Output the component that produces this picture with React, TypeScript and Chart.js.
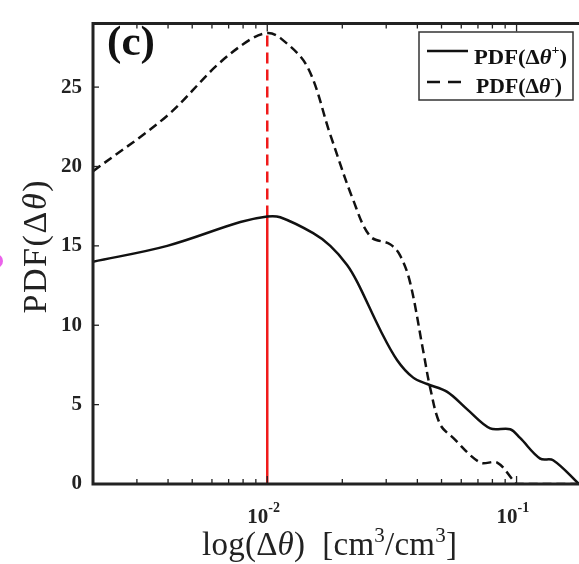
import React, { useEffect, useRef } from "react";
import { Chart, registerables } from "chart.js";

Chart.register(...registerables);

// ---- data ----
const PLUS_X = [0.002, 0.00397, 0.0078, 0.01, 0.01127, 0.01528, 0.0179, 0.0209, 0.023, 0.0284, 0.0332, 0.0385, 0.0438, 0.0527, 0.0634, 0.0784, 0.0942, 0.1033, 0.1244, 0.1402, 0.178];
const PLUS_Y = [14.0, 15.0, 16.5, 16.85, 16.8, 15.8, 15.0, 13.8, 12.7, 9.7, 7.8, 6.7, 6.3, 5.8, 4.7, 3.5, 3.45, 2.9, 1.6, 1.5, 0];

const MINUS_X = [0.002, 0.00397, 0.00631, 0.00855, 0.01, 0.01127, 0.01446, 0.0179, 0.0221, 0.0259, 0.0311, 0.0341, 0.0374, 0.0422, 0.0451, 0.0494, 0.0557, 0.0715, 0.0836, 0.0968, 0.1004, 0.178];
const MINUS_Y = [19.7, 23.2, 26.4, 28.0, 28.4, 28.1, 26.3, 22.0, 17.9, 15.6, 15.1, 14.4, 12.7, 8.4, 6.0, 3.75, 2.9, 1.35, 1.35, 0.25, 0, 0];

const PEAK_X = 0.01;
const RED_SOLID_Y = [0, 16.85];
const RED_DASHED_Y = [16.85, 28.4];

const Y_TICKS = [0, 5, 10, 15, 20, 25];
const X_MAJOR = [0.01, 0.1];
const X_MAJOR_EXP = ["-2", "-1"];
const X_MIN = 0.002;
const X_MAX = 0.178;
const Y_MIN = 0;
const Y_MAX = 29;

const LEGEND_LABELS = ["PDF(Δθ", "PDF(Δθ"];
const LEGEND_SUPS = ["+", "-"];

type Seg = { t: string; font: string; dy?: number };

function richWidth(ctx: CanvasRenderingContext2D, segs: Seg[]) {
  let w = 0;
  for (const s of segs) {
    ctx.font = s.font;
    w += ctx.measureText(s.t).width;
  }
  return w;
}

// mode "scale": stretch horizontally; mode "spread": distribute extra space between characters
function drawRich(
  ctx: CanvasRenderingContext2D,
  segs: Seg[],
  x: number,
  y: number,
  align: "left" | "center",
  targetW: number,
  color: string,
  mode: "scale" | "spread"
) {
  const w = richWidth(ctx, segs);
  const nChars = segs.reduce((a, s) => a + s.t.length, 0);
  const sx = mode === "scale" ? targetW / w : 1;
  const gap = mode === "spread" ? (targetW - w) / Math.max(1, nChars - 1) : 0;
  const x0 = align === "center" ? x - targetW / 2 : x;
  ctx.save();
  ctx.translate(x0, y);
  ctx.scale(sx, 1);
  ctx.fillStyle = color;
  ctx.textBaseline = "alphabetic";
  ctx.textAlign = "left";
  let cx = 0;
  for (const s of segs) {
    ctx.font = s.font;
    for (const ch of Array.from(s.t)) {
      ctx.fillText(ch, cx, s.dy || 0);
      cx += ctx.measureText(ch).width + gap;
    }
  }
  ctx.restore();
}

const SERIF = '"Liberation Serif", "Times New Roman", serif';

const decorPlugin = {
  id: "decor",
  afterDatasetsDraw(chart: any) {
    const ctx: CanvasRenderingContext2D = chart.ctx;
    const { left, right, top, bottom } = chart.chartArea;
    const xs = chart.scales.x;
    const ys = chart.scales.y;
    ctx.save();
    // spines
    ctx.strokeStyle = "#222";
    ctx.lineWidth = 3;
    ctx.beginPath();
    ctx.moveTo(right + 2, top);
    ctx.lineTo(left, top);
    ctx.lineTo(left, bottom);
    ctx.lineTo(right + 2, bottom);
    ctx.stroke();

    // x ticks (inward, top and bottom)
    ctx.lineWidth = 1.3;
    for (const t of xs.ticks) {
      const v = t.value;
      if (v <= X_MIN * 1.0001 || v >= X_MAX * 0.9999) continue;
      const e = Math.floor(Math.log10(v) + 1e-9);
      const m = v / Math.pow(10, e);
      if (Math.abs(m - Math.round(m)) > 1e-6) continue;
      const major = Math.abs(m - 1) < 1e-6;
      const len = major ? 7 : 4;
      const px = xs.getPixelForValue(v);
      ctx.beginPath();
      ctx.moveTo(px, bottom - 1);
      ctx.lineTo(px, bottom - 1 - len);
      ctx.moveTo(px, top + 1);
      ctx.lineTo(px, top + 1 + len);
      ctx.stroke();
    }
    // y ticks
    for (const v of Y_TICKS) {
      const py = ys.getPixelForValue(v);
      ctx.beginPath();
      ctx.moveTo(left + 1, py);
      ctx.lineTo(left + 6, py);
      ctx.stroke();
    }

    // x tick labels 10^n
    X_MAJOR.forEach((v, i) => {
      const px = xs.getPixelForValue(v);
      ctx.fillStyle = "#222";
      ctx.font = `bold 21px ${SERIF}`;
      ctx.textAlign = "right";
      ctx.textBaseline = "alphabetic";
      ctx.fillText("10", px + 1, bottom + 39);
      ctx.font = `bold 14px ${SERIF}`;
      ctx.textAlign = "left";
      ctx.fillText(X_MAJOR_EXP[i], px + 1, bottom + 28);
    });

    // axis titles
    drawRich(
      ctx,
      [
        { t: "log(Δ", font: `33px ${SERIF}` },
        { t: "θ", font: `italic 33px ${SERIF}` },
        { t: ")  [cm", font: `33px ${SERIF}` },
        { t: "3", font: `21px ${SERIF}`, dy: -13 },
        { t: "/cm", font: `33px ${SERIF}` },
        { t: "3", font: `21px ${SERIF}`, dy: -13 },
        { t: "]", font: `33px ${SERIF}` },
      ],
      329.5,
      555,
      "center",
      255,
      "#222",
      "spread"
    );
    ctx.save();
    ctx.translate(46, 247);
    ctx.rotate(-Math.PI / 2);
    drawRich(
      ctx,
      [
        { t: "PDF(Δ", font: `34px ${SERIF}` },
        { t: "θ", font: `italic 34px ${SERIF}` },
        { t: ")", font: `34px ${SERIF}` },
      ],
      0,
      0,
      "center",
      133,
      "#222",
      "spread"
    );
    ctx.restore();

    // panel tag
    drawRich(ctx, [{ t: "(c)", font: `bold 42px ${SERIF}` }], 107, 55, "left", 48, "#111", "scale");

    // legend
    const bx = 419, by = 32, bw = 154, bh = 68;
    ctx.fillStyle = "#fff";
    ctx.fillRect(bx, by, bw, bh);
    ctx.strokeStyle = "#333";
    ctx.lineWidth = 1.5;
    ctx.strokeRect(bx, by, bw, bh);
    ctx.strokeStyle = "#111";
    ctx.lineWidth = 2.5;
    ctx.beginPath();
    ctx.setLineDash([]);
    ctx.moveTo(427, 51);
    ctx.lineTo(468, 51);
    ctx.stroke();
    ctx.setLineDash([13, 8]);
    ctx.beginPath();
    ctx.moveTo(427, 82);
    ctx.lineTo(461, 82);
    ctx.stroke();
    ctx.setLineDash([]);
    const rows = [64, 93];
    const lefts = [474, 476];
    const widths = [93, 86];
    LEGEND_LABELS.forEach((lab, i) => {
      drawRich(
        ctx,
        [
          { t: lab.slice(0, 5), font: `bold 21px ${SERIF}` },
          { t: lab.slice(5), font: `bold italic 21px ${SERIF}` },
          { t: LEGEND_SUPS[i], font: `bold 13px ${SERIF}`, dy: -10 },
          { t: ")", font: `bold 21px ${SERIF}` },
        ],
        lefts[i],
        rows[i],
        "left",
        widths[i],
        "#111",
        "scale"
      );
    });

    // partial mark from neighbouring panel
    ctx.fillStyle = "rgba(230,70,230,0.85)";
    ctx.beginPath();
    ctx.arc(-4, 261, 7, 0, Math.PI * 2);
    ctx.fill();
    ctx.restore();
  },
};

export default function App() {
  const ref = useRef<HTMLCanvasElement | null>(null);
  useEffect(() => {
    if (!ref.current) return;
    const pts = (xs: number[], ys: number[]) => xs.map((x, i) => ({ x, y: ys[i] }));
    const chart = new Chart(ref.current, {
      type: "line",
      data: {
        datasets: [
          {
            label: "PDF(Δθ+)",
            data: pts(PLUS_X, PLUS_Y),
            borderColor: "#111",
            borderWidth: 2.5,
            pointRadius: 0,
            tension: 0.35,
            fill: false,
          },
          {
            label: "PDF(Δθ-)",
            data: pts(MINUS_X, MINUS_Y),
            borderColor: "#111",
            borderWidth: 2.5,
            borderDash: [9, 5],
            pointRadius: 0,
            tension: 0.35,
            fill: false,
          },
          {
            label: "peak",
            data: pts([PEAK_X, PEAK_X], RED_SOLID_Y),
            borderColor: "#f01a1a",
            borderWidth: 2.5,
            pointRadius: 0,
            fill: false,
          },
          {
            label: "peak-",
            data: pts([PEAK_X, PEAK_X], RED_DASHED_Y),
            borderColor: "#f01a1a",
            borderWidth: 2.5,
            borderDash: [11, 6],
            pointRadius: 0,
            fill: false,
          },
        ],
      },
      options: {
        responsive: false,
        animation: false,
        layout: { padding: { top: 13, left: 0, right: 0, bottom: 0 } },
        plugins: { legend: { display: false }, tooltip: { enabled: false } },
        scales: {
          x: {
            type: "logarithmic",
            min: X_MIN,
            max: X_MAX,
            grid: { display: false, drawTicks: false },
            border: { display: false },
            ticks: { display: false },
            afterFit: (s: any) => {
              s.height = 80;
            },
          },
          y: {
            type: "linear",
            min: Y_MIN,
            max: Y_MAX,
            afterBuildTicks: (s: any) => {
              s.ticks = Y_TICKS.map((v) => ({ value: v }));
            },
            grid: { display: false, drawTicks: false },
            border: { display: false },
            ticks: {
              padding: 11,
              color: "#222",
              font: { family: SERIF, size: 21, weight: "bold" },
            },
            afterFit: (s: any) => {
              s.width = 93;
            },
          },
        },
      },
      plugins: [decorPlugin],
    } as any);
    return () => chart.destroy();
  }, []);
  return (
    <div style={{ position: "fixed", left: 0, top: 0, width: 579, height: 564, background: "#fff" }}>
      <canvas ref={ref} width={579} height={564} style={{ display: "block" }} />
    </div>
  );
}
